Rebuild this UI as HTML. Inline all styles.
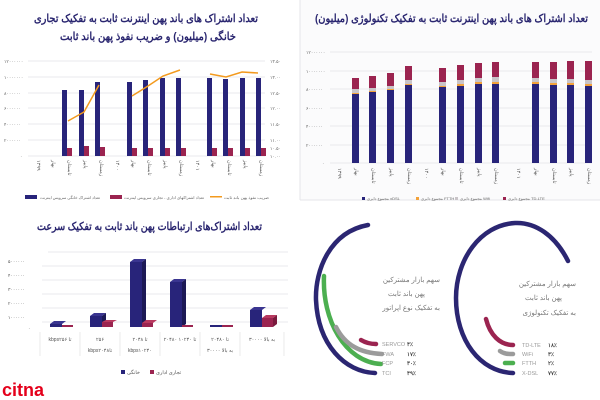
<!DOCTYPE html>
<html><head><meta charset="utf-8"><style>
body{margin:0;width:600px;height:400px;overflow:hidden;background:#fff}
svg{display:block}
text{font-family:"Liberation Sans","Noto Sans CJK SC",sans-serif}
</style></head><body>
<svg width="600" height="400" viewBox="0 0 600 400" xmlns="http://www.w3.org/2000/svg">
<rect x="300" y="0" width="300" height="200" fill="#fbfbfc"/>
<line x1="300" y1="0" x2="300" y2="200" stroke="#e6e6ea"/>
<line x1="300" y1="200" x2="600" y2="200" stroke="#e6e6ea"/>
<!-- TOP LEFT -->
<g fill="#2a2670" font-weight="bold" font-size="11">
<text x="34" y="22" textLength="224" lengthAdjust="spacingAndGlyphs">تعداد اشتراک های باند پهن اینترنت ثابت به تفکیک تجاری</text>
<text x="60" y="40" textLength="176" lengthAdjust="spacingAndGlyphs">خانگی (میلیون) و ضریب نفوذ پهن باند ثابت</text>
</g>
<g stroke="#e3e3e8" stroke-width="0.8">
<line x1="28" y1="61" x2="265" y2="61"/><line x1="28" y1="77" x2="265" y2="77"/><line x1="28" y1="93" x2="265" y2="93"/><line x1="28" y1="108" x2="265" y2="108"/><line x1="28" y1="124" x2="265" y2="124"/><line x1="28" y1="140" x2="265" y2="140"/><line x1="28" y1="156" x2="265" y2="156"/>
</g>
<g font-size="4.5" fill="#666">
<text x="4" y="63">۱۲۰۰۰۰۰۰</text><text x="4" y="79">۱۰۰۰۰۰۰۰</text><text x="4" y="95">۸۰۰۰۰۰۰</text><text x="4" y="110">۶۰۰۰۰۰۰</text><text x="4" y="126">۴۰۰۰۰۰۰</text><text x="4" y="142">۲۰۰۰۰۰۰</text><text x="20" y="158">۰</text>
<text x="270" y="63">۱۳.۵۰</text><text x="270" y="79">۱۳.۰۰</text><text x="270" y="95">۱۲.۵۰</text><text x="270" y="110">۱۲.۰۰</text><text x="270" y="126">۱۱.۵۰</text><text x="270" y="142">۱۱.۰۰</text><text x="270" y="150">۱۰.۵۰</text><text x="270" y="158">۱۰.۰۰</text>
</g>
<g fill="#28247a">
<rect x="62" y="90" width="5" height="66"/><rect x="79" y="90" width="5" height="66"/><rect x="95" y="82" width="5" height="74"/>
<rect x="127" y="82" width="5" height="74"/><rect x="143" y="80" width="5" height="76"/><rect x="160" y="78" width="5" height="78"/><rect x="176" y="78" width="5" height="78"/>
<rect x="207" y="78" width="5" height="78"/><rect x="223" y="79" width="5" height="77"/><rect x="240" y="78" width="5" height="78"/><rect x="256" y="78" width="5" height="78"/>
</g>
<g fill="#9b2450">
<rect x="67" y="148" width="5" height="8"/><rect x="84" y="146" width="5" height="10"/><rect x="100" y="147" width="5" height="9"/>
<rect x="132" y="148" width="5" height="8"/><rect x="148" y="148" width="5" height="8"/><rect x="165" y="148" width="5" height="8"/><rect x="181" y="148" width="5" height="8"/>
<rect x="212" y="148" width="5" height="8"/><rect x="228" y="148" width="5" height="8"/><rect x="245" y="148" width="5" height="8"/><rect x="261" y="148" width="5" height="8"/>
</g>
<g fill="none" stroke="#f39a1e" stroke-width="1.5">
<polyline points="68,121 84,112 99,85"/><polyline points="132,96 148,86 163,76 180,70"/><polyline points="210,74 226,77 242,72 258,73"/>
</g>
<g font-size="5" fill="#555">
<text transform="translate(37,160) rotate(90)">۱۳۹۹</text><text transform="translate(52,160) rotate(90)">بهار</text><text transform="translate(68,160) rotate(90)">تابستان</text><text transform="translate(84,160) rotate(90)">پاییز</text><text transform="translate(100,160) rotate(90)">زمستان</text><text transform="translate(116,160) rotate(90)">۱۴۰۰</text><text transform="translate(132,160) rotate(90)">بهار</text><text transform="translate(148,160) rotate(90)">تابستان</text><text transform="translate(164,160) rotate(90)">پاییز</text><text transform="translate(180,160) rotate(90)">زمستان</text><text transform="translate(196,160) rotate(90)">۱۴۰۱</text><text transform="translate(212,160) rotate(90)">بهار</text><text transform="translate(228,160) rotate(90)">تابستان</text><text transform="translate(244,160) rotate(90)">پاییز</text><text transform="translate(260,160) rotate(90)">زمستان</text>
</g>
<g font-size="4" fill="#666">
<rect x="25" y="195" width="12" height="4" fill="#28247a"/><text x="40" y="199" textLength="60" lengthAdjust="spacingAndGlyphs">تعداد اشتراک خانگی سرویس اینترنت</text>
<rect x="110" y="195" width="12" height="4" fill="#9b2450"/><text x="124" y="199" textLength="80" lengthAdjust="spacingAndGlyphs">تعداد اشتراکهای اداری - تجاری سرویس اینترنت</text>
<rect x="210" y="196" width="12" height="1.5" fill="#f39a1e"/><text x="224" y="199" textLength="45" lengthAdjust="spacingAndGlyphs">ضریب نفوذ پهن باند ثابت</text>
</g>
<!-- TOP RIGHT -->
<text x="315" y="22" fill="#2a2670" font-weight="bold" font-size="11" textLength="273" lengthAdjust="spacingAndGlyphs">تعداد اشتراک های باند پهن اینترنت ثابت به تفکیک تکنولوژی (میلیون)</text>
<g stroke="#e3e3e8" stroke-width="0.8">
<line x1="330" y1="52" x2="592" y2="52"/><line x1="330" y1="71" x2="592" y2="71"/><line x1="330" y1="89" x2="592" y2="89"/><line x1="330" y1="108" x2="592" y2="108"/><line x1="330" y1="126" x2="592" y2="126"/><line x1="330" y1="145" x2="592" y2="145"/><line x1="330" y1="163" x2="592" y2="163"/>
</g>
<g font-size="4.5" fill="#666">
<text x="306" y="54">۱۲۰۰۰۰۰۰</text><text x="306" y="73">۱۰۰۰۰۰۰۰</text><text x="306" y="91">۸۰۰۰۰۰۰</text><text x="306" y="110">۶۰۰۰۰۰۰</text><text x="306" y="128">۴۰۰۰۰۰۰</text><text x="306" y="147">۲۰۰۰۰۰۰</text><text x="322" y="165">۰</text>
</g>
<g>
<rect x="352" y="94" width="7" height="69" fill="#28247a"/><rect x="352" y="78" width="7" height="11" fill="#9b2450"/><rect x="352" y="89" width="7" height="4" fill="#c9c4c8"/><rect x="352" y="93" width="7" height="1" fill="#f3a23a"/>
<rect x="369" y="92" width="7" height="71" fill="#28247a"/><rect x="369" y="76" width="7" height="12" fill="#9b2450"/><rect x="369" y="88" width="7" height="3" fill="#c9c4c8"/><rect x="369" y="91" width="7" height="1" fill="#f3a23a"/>
<rect x="387" y="90" width="7" height="73" fill="#28247a"/><rect x="387" y="73" width="7" height="13" fill="#9b2450"/><rect x="387" y="86" width="7" height="3" fill="#c9c4c8"/><rect x="387" y="89" width="7" height="1" fill="#f3a23a"/>
<rect x="405" y="85" width="7" height="78" fill="#28247a"/><rect x="405" y="66" width="7" height="14" fill="#9b2450"/><rect x="405" y="80" width="7" height="4" fill="#c9c4c8"/><rect x="405" y="84" width="7" height="1" fill="#f3a23a"/>
<rect x="439" y="87" width="7" height="76" fill="#28247a"/><rect x="439" y="68" width="7" height="14" fill="#9b2450"/><rect x="439" y="82" width="7" height="4" fill="#c9c4c8"/><rect x="439" y="86" width="7" height="1" fill="#f3a23a"/>
<rect x="457" y="86" width="7" height="77" fill="#28247a"/><rect x="457" y="65" width="7" height="15" fill="#9b2450"/><rect x="457" y="80" width="7" height="4" fill="#c9c4c8"/><rect x="457" y="84" width="7" height="2" fill="#f3a23a"/>
<rect x="475" y="84" width="7" height="79" fill="#28247a"/><rect x="475" y="63" width="7" height="15" fill="#9b2450"/><rect x="475" y="78" width="7" height="4" fill="#c9c4c8"/><rect x="475" y="82" width="7" height="2" fill="#f3a23a"/>
<rect x="492" y="84" width="7" height="79" fill="#28247a"/><rect x="492" y="62" width="7" height="15" fill="#9b2450"/><rect x="492" y="77" width="7" height="5" fill="#c9c4c8"/><rect x="492" y="82" width="7" height="2" fill="#f3a23a"/>
<rect x="532" y="84" width="7" height="79" fill="#28247a"/><rect x="532" y="62" width="7" height="16" fill="#9b2450"/><rect x="532" y="78" width="7" height="4" fill="#c9c4c8"/><rect x="532" y="82" width="7" height="2" fill="#f3a23a"/>
<rect x="550" y="85" width="7" height="78" fill="#28247a"/><rect x="550" y="62" width="7" height="17" fill="#9b2450"/><rect x="550" y="79" width="7" height="4" fill="#c9c4c8"/><rect x="550" y="83" width="7" height="2" fill="#f3a23a"/>
<rect x="567" y="85" width="7" height="78" fill="#28247a"/><rect x="567" y="61" width="7" height="18" fill="#9b2450"/><rect x="567" y="79" width="7" height="4" fill="#c9c4c8"/><rect x="567" y="83" width="7" height="2" fill="#f3a23a"/>
<rect x="585" y="86" width="7" height="77" fill="#28247a"/><rect x="585" y="61" width="7" height="19" fill="#9b2450"/><rect x="585" y="80" width="7" height="4" fill="#c9c4c8"/><rect x="585" y="84" width="7" height="2" fill="#f3a23a"/>
</g>
<g font-size="5" fill="#555">
<text transform="translate(338,168) rotate(90)">۱۳۹۹</text><text transform="translate(355,168) rotate(90)">بهار</text><text transform="translate(372,168) rotate(90)">تابستان</text><text transform="translate(390,168) rotate(90)">پاییز</text><text transform="translate(408,168) rotate(90)">زمستان</text><text transform="translate(425,168) rotate(90)">۱۴۰۰</text><text transform="translate(442,168) rotate(90)">بهار</text><text transform="translate(460,168) rotate(90)">تابستان</text><text transform="translate(478,168) rotate(90)">پاییز</text><text transform="translate(495,168) rotate(90)">زمستان</text><text transform="translate(517,168) rotate(90)">۱۴۰۱</text><text transform="translate(535,168) rotate(90)">بهار</text><text transform="translate(553,168) rotate(90)">تابستان</text><text transform="translate(570,168) rotate(90)">پاییز</text><text transform="translate(588,168) rotate(90)">زمستان</text>
</g>
<g font-size="4" fill="#666">
<rect x="362" y="197" width="3" height="3" fill="#28247a"/><text x="367" y="200">مجموع دایری xDSL</text>
<rect x="416" y="197" width="3" height="3" fill="#f3a23a"/><text x="421" y="200">مجموع دایری FTTH</text>
<rect x="455" y="197" width="3" height="3" fill="#c9c4c8"/><text x="460" y="200">مجموع دایری Wifi</text>
<rect x="503" y="197" width="3" height="3" fill="#9b2450"/><text x="508" y="200">مجموع دایری TD-LTE</text>
</g>
<!-- BOTTOM LEFT -->
<text x="37" y="230" fill="#2a2670" font-weight="bold" font-size="11" textLength="225" lengthAdjust="spacingAndGlyphs">تعداد اشتراک‌های ارتباطات پهن باند ثابت به تفکیک سرعت</text>
<g stroke="#e3e3e8" stroke-width="0.8">
<line x1="48" y1="252" x2="288" y2="252"/><line x1="42" y1="266" x2="288" y2="266"/><line x1="42" y1="280" x2="288" y2="280"/><line x1="42" y1="294" x2="288" y2="294"/><line x1="42" y1="308" x2="288" y2="308"/><line x1="42" y1="322" x2="288" y2="322"/>
</g>
<g font-size="4.5" fill="#555">
<text x="8" y="263">۵۰۰۰۰۰۰</text><text x="8" y="277">۴۰۰۰۰۰۰</text><text x="8" y="291">۳۰۰۰۰۰۰</text><text x="8" y="305">۲۰۰۰۰۰۰</text><text x="8" y="319">۱۰۰۰۰۰۰</text><text x="28" y="330">۰</text>
</g>
<g>
<rect x="50" y="324" width="12" height="3" fill="#28247a"/><polygon points="50,324 54,321 66,321 62,324" fill="#3a3590"/>
<rect x="62" y="325" width="11" height="2" fill="#9b2450"/>
<rect x="90" y="316" width="12" height="11" fill="#28247a"/><polygon points="90,316 94,313 106,313 102,316" fill="#3a3590"/><polygon points="102,316 106,313 106,324 102,327" fill="#1c1955"/>
<rect x="102" y="322" width="11" height="5" fill="#9b2450"/><polygon points="102,322 106,320 117,320 113,322" fill="#b8395f"/>
<rect x="130" y="262" width="12" height="65" fill="#28247a"/><polygon points="130,262 134,259 146,259 142,262" fill="#3a3590"/><polygon points="142,262 146,259 146,324 142,327" fill="#1c1955"/>
<rect x="142" y="323" width="11" height="4" fill="#9b2450"/><polygon points="142,323 146,320 157,320 153,323" fill="#b8395f"/>
<rect x="170" y="282" width="12" height="45" fill="#28247a"/><polygon points="170,282 174,279 186,279 182,282" fill="#3a3590"/><polygon points="182,282 186,279 186,324 182,327" fill="#1c1955"/>
<rect x="182" y="325" width="11" height="2" fill="#9b2450"/>
<rect x="210" y="325" width="12" height="2" fill="#28247a"/><rect x="222" y="325" width="11" height="2" fill="#9b2450"/>
<rect x="250" y="310" width="12" height="17" fill="#28247a"/><polygon points="250,310 254,307 266,307 262,310" fill="#3a3590"/>
<rect x="262" y="318" width="11" height="9" fill="#9b2450"/><polygon points="262,318 266,315 277,315 273,318" fill="#b8395f"/><polygon points="273,318 277,315 277,324 273,327" fill="#7a1a3d"/>
</g>
<g stroke="#ddd" stroke-width="0.6"><line x1="40" y1="332" x2="40" y2="356"/><line x1="80" y1="332" x2="80" y2="356"/><line x1="120" y1="332" x2="120" y2="356"/><line x1="160" y1="332" x2="160" y2="356"/><line x1="200" y1="332" x2="200" y2="356"/><line x1="240" y1="332" x2="240" y2="356"/><line x1="284" y1="332" x2="284" y2="356"/></g>
<g font-size="5" fill="#555" text-anchor="middle">
<text x="60" y="341">kbps۲۵۶ تا</text>
<text x="100" y="341">۲۵۶</text><text x="100" y="352">kbps۲۰۴۸تا</text>
<text x="140" y="341">۲۰۴۸ تا</text><text x="140" y="352">kbps۱۰۲۴۰</text>
<text x="180" y="341">۲۰۴۸۰ تا ۱۰۲۴۰</text>
<text x="220" y="341">۲۰۴۸۰ تا</text><text x="220" y="352">۳۰۰۰۰ به بالا</text>
<text x="262" y="341">۳۰۰۰۰  به بالا</text>
</g>
<rect x="121" y="370" width="4" height="4" fill="#28247a"/><text x="127" y="374" font-size="5" fill="#555">خانگی</text>
<rect x="150" y="370" width="4" height="4" fill="#9b2450"/><text x="156" y="374" font-size="5" fill="#555">تجاری اداری</text>
<text x="2" y="396" font-size="18" font-weight="bold" fill="#e4001b">citna</text>
<!-- BOTTOM RIGHT -->
<g fill="none" stroke-linecap="round" stroke-width="4.5">
<path d="M368,225 C330,232 315,270 316,300 C318,345 345,372 375,373" stroke="#2b2672"/>
<path d="M324,276 C322,320 345,362 381,364" stroke="#4caf50"/>
<path d="M336,327 C345,345 360,353 382,354" stroke="#9b9b9b"/>
<path d="M361,340 C366,343 370,344 376,344" stroke="#9b2450"/>
<path d="M568,261 C555,235 535,222 515,223 C480,225 456,260 456,298 C456,340 480,372 513,373" stroke="#2b2672"/>
<path d="M486,319 C490,335 500,345 513,345" stroke="#9b2450"/>
<path d="M500,351 C504,354 508,354 513,354" stroke="#9b9b9b"/>
<path d="M505,363 L513,363" stroke="#4caf50"/>
</g>
<g font-size="7" fill="#777" text-anchor="end">
<text x="440" y="282">سهم بازار مشترکین</text><text x="425" y="296">پهن باند ثابت</text><text x="440" y="310">به تفکیک نوع اپراتور</text>
<text x="576" y="286">سهم بازار مشترکین</text><text x="562" y="300">پهن باند ثابت</text><text x="576" y="315">به تفکیک تکنولوژی</text>
</g>
<g font-size="5.5" fill="#999">
<text x="382" y="346">SERVCO</text><text x="382" y="356">FWA</text><text x="382" y="365">FCP</text><text x="382" y="375">TCI</text>
<text x="522" y="347">TD-LTE</text><text x="522" y="356">WiFi</text><text x="522" y="365">FTTH</text><text x="522" y="375">X-DSL</text>
</g>
<g font-size="5.5" fill="#444" font-weight="bold">
<text x="407" y="346">۴٪</text><text x="407" y="356">۱۷٪</text><text x="407" y="365">۳۰٪</text><text x="407" y="375">۴۹٪</text>
<text x="548" y="347">۱۸٪</text><text x="548" y="356">۳٪</text><text x="548" y="365">۲٪</text><text x="548" y="375">۷۷٪</text>
</g>
</svg>
</body></html>
